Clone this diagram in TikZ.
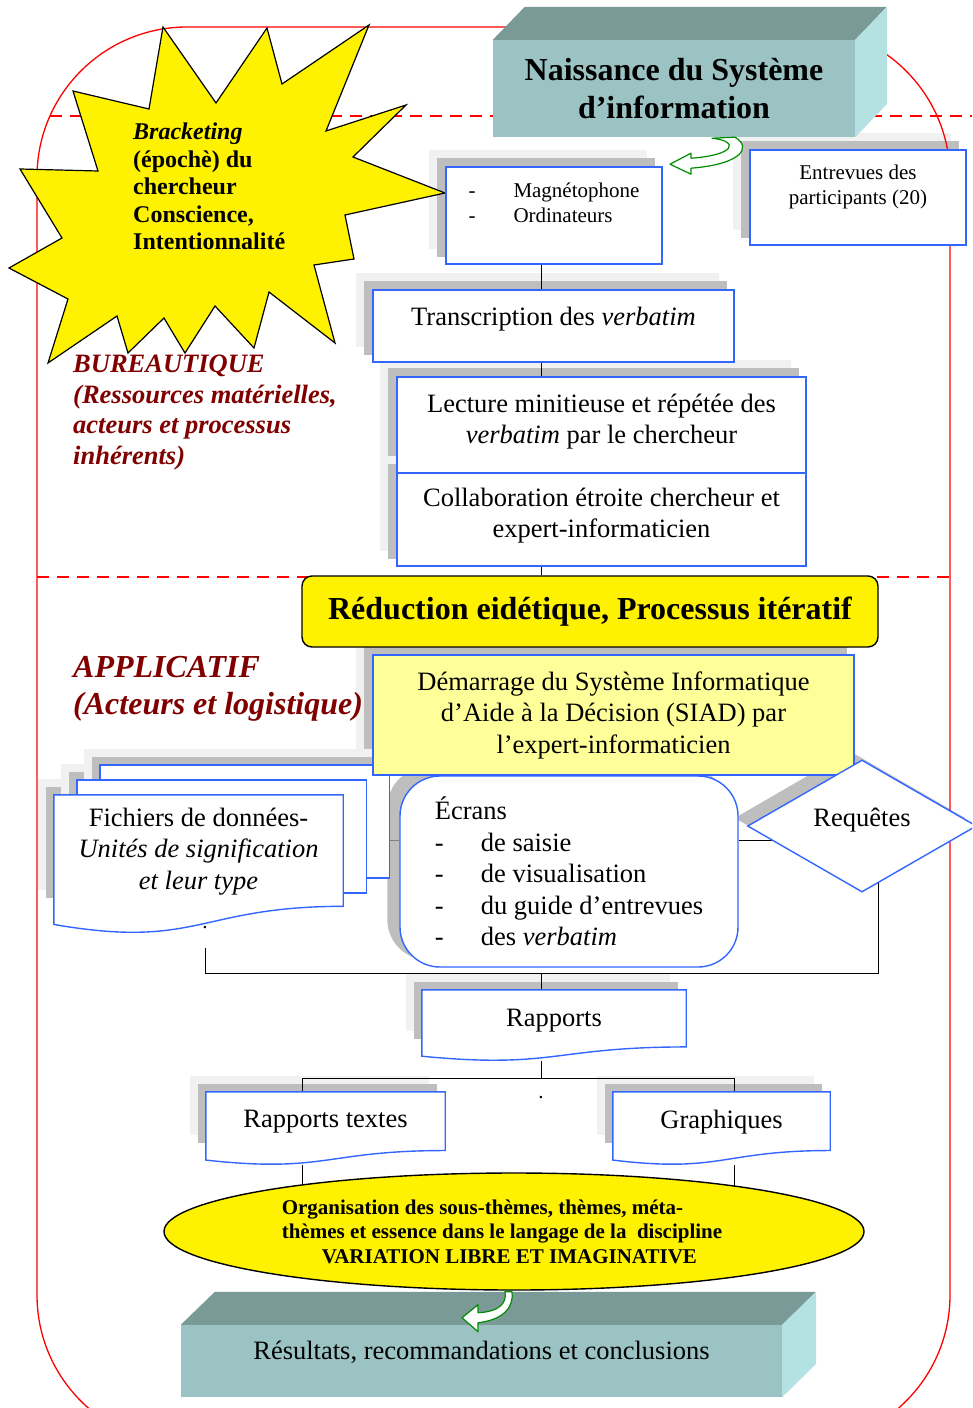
\documentclass[tikz,border=0pt]{standalone}
\usepackage{fontspec}
\setmainfont{Liberation Serif}
\usetikzlibrary{calc,shapes.geometric}

\definecolor{bleu}{RGB}{51,102,255}
\definecolor{rougefonce}{RGB}{128,0,0}
\definecolor{jaunepale}{RGB}{255,255,153}
\definecolor{face}{RGB}{156,195,195}
\definecolor{dessus}{RGB}{122,154,152}
\definecolor{cote}{RGB}{180,226,226}
\definecolor{gris1}{RGB}{241,241,241}
\definecolor{gris2}{RGB}{190,190,190}
\definecolor{vert}{RGB}{0,140,0}

\pgfdeclarelayer{ombre}
\pgfdeclarelayer{lignes}
\pgfdeclarelayer{fond}
\pgfsetlayers{ombre,lignes,fond,main}

\newcommand{\txt}{\fontsize{26.5}{31.5}\selectfont}
\newcommand{\petit}{\fontsize{21}{25}\selectfont}
\newcommand{\tiret}[1]{\makebox[#1][l]{-}}
\newcommand{\ombre}[2][1]{%
  \fill[gris1] ($(#2.north west)+(-16,-16)$) rectangle ($(#2.north east)!#1!(#2.south east)+(-16,-16)$);
  \fill[gris2] ($(#2.north west)+(-8,-8)$) rectangle ($(#2.north east)!#1!(#2.south east)+(-8,-8)$);}
\newcommand{\feuille}[1]{%
  \draw[draw=bleu,line width=1.4pt,fill=white] (#1.north west) -- (#1.north east)
    -- ($(#1.north east)!0.8!(#1.south east)$)
    .. controls ($(#1.north)!0.8!(#1.south)$) and ($(#1.north)!1.11!(#1.south)$)
    .. ($(#1.north west)!0.93!(#1.south west)$) -- cycle;}

\begin{document}
\begin{tikzpicture}[x=1pt,y=-1pt,
  boite/.style={draw=bleu,line width=1.4pt,fill=white,inner sep=0pt,align=center,font=\txt},
  feuillet/.style={inner sep=0pt,align=center,font=\txt},
  bloc/.style={fill=face,inner sep=0pt,align=center},
  titre/.style={anchor=north west,inner sep=0pt,align=left,text=rougefonce},
  lien/.style={line width=1pt},
  fleche/.style={draw=vert,fill=white,line width=1.2pt,line join=round},
  tirets/.style={red,line width=1.3pt,dash pattern=on 12pt off 8pt}]
   \useasboundingbox (0,0) rectangle (972,1408);
   \clip (0,0) rectangle (972,1408);

   \draw[red,line width=1.3pt,rounded corners=150pt] (37,27) rectangle (950,1445);%cadre
   \draw[tirets] (50,116) -- (972,116);%limite haute
   \draw[tirets] (37,577) -- (955,577);%limite bureautique/applicatif

   \draw[fill=yellow,line width=1.2pt] (163,27) -- (216,103) -- (267,28) -- (282,84)
      -- (369,25) -- (326,131) -- (406,105) -- (353,157) -- (445,193) -- (345,215)
      -- (354,259) -- (314,265) -- (335,343) -- (269,292) -- (254,348) -- (215,306)
      -- (185,353) -- (164,318) -- (128,353) -- (117,316) -- (48,363) -- (68,299)
      -- (9,268) -- (62,238) -- (20,169) -- (98,171) -- (73,91) -- (149,109) -- cycle;%etoile
   \node[anchor=north west,inner sep=0pt,align=left,font=\fontsize{24}{27.5}\selectfont\bfseries] (brk)
      at (133,123) {\textit{Bracketing}\\(épochè) du\\chercheur\\Conscience,\\Intentionnalité};

   \node[titre,font=\fontsize{26.5}{30.5}\selectfont\bfseries\itshape] (bur) at (73,355)
      {BUREAUTIQUE\\(Ressources matérielles,\\acteurs et processus\\inhérents)};
   \node[titre,font=\fontsize{32}{37}\selectfont\bfseries\itshape] (app) at (73,656)
      {APPLICATIF\\(Acteurs et logistique)};

   \node[bloc,minimum width=362pt,minimum height=97pt,font=\fontsize{32}{37.5}\selectfont\bfseries]
      (nais) at (674,88.5) {Naissance du Système\\d’information};
   \fill[dessus] (nais.north west) -- ++(32,-33) -- ++(362,0) -- (nais.north east) -- cycle;%dessus
   \fill[cote] (nais.north east) -- ++(32,-33) -- ++(0,97) -- (nais.south east) -- cycle;%cote

   \node[boite,minimum width=216pt,minimum height=95pt,font=\petit] (ent) at (858,197.5)
      {Entrevues des\\participants (20)\\ \mbox{}};
   \node[boite,minimum width=216pt,minimum height=97pt,font=\petit,align=left] (mag) at (554,215.5)
      {\tiret{45pt}Magnétophone\\\tiret{45pt}Ordinateurs\\ \mbox{}};
   \node[boite,minimum width=361pt,minimum height=72pt] (tra) at (553.5,326)
      {Transcription des \emph{verbatim}\\[-13pt]\mbox{}};
   \node[boite,minimum width=409pt,minimum height=96pt] (lec) at (601.5,425)
      {Lecture minitieuse et répétée des\\\emph{verbatim} par le chercheur\\[-19pt]\mbox{}};
   \node[boite,minimum width=409pt,minimum height=93pt] (col) at (601.5,519.5)
      {Collaboration étroite chercheur et\\expert-informaticien\\[-18pt]\mbox{}};
   \node[draw,fill=yellow,line width=1.4pt,rounded corners=10pt,minimum width=576pt,minimum height=71pt,
      font=\fontsize{32}{37}\selectfont\bfseries] (red) at (590,611.5) {Réduction eidétique, Processus itératif};
   \node[boite,fill=jaunepale,minimum width=481pt,minimum height=120pt] (dem) at (613.5,715)
      {Démarrage du Système Informatique\\d’Aide à la Décision (SIAD) par\\l’expert-informaticien};

   \node[feuillet,minimum width=289pt,minimum height=139pt] (fic) at (198.5,864.5)
      {Fichiers de données-\\\emph{Unités de signification}\\\emph{et leur type}\\ \mbox{}};
   \node[boite,rounded corners=40pt,minimum width=338pt,minimum height=191pt,align=left] (ecr) at (569,871.5)
      {Écrans\\\tiret{46pt}de saisie\\\tiret{46pt}de visualisation\\\tiret{46pt}du guide d’entrevues\\\tiret{46pt}des \emph{verbatim}};
   \node[boite,diamond,minimum width=229pt,minimum height=119pt] (req) at (862,826) {Requêtes\\[-15pt]\mbox{}};
   \node[font=\petit,inner sep=0pt] (p1) at (205,928) {.};

   \node[feuillet,minimum width=264pt,minimum height=71pt] (rap) at (554,1025.5) {Rapports\\[-16pt]\mbox{}};
   \node[font=\petit,inner sep=0pt] (p2) at (541,1098) {.};
   \node[feuillet,minimum width=239pt,minimum height=73pt] (rtx) at (325.5,1128.5) {Rapports textes\\[-13pt]\mbox{}};
   \node[feuillet,minimum width=217pt,minimum height=73pt] (gra) at (721.5,1128.5) {Graphiques\\[-13pt]\mbox{}};

   \node[ellipse,draw,fill=yellow,line width=1.4pt,minimum width=700pt,minimum height=117pt,inner sep=0pt,
      align=left,font=\fontsize{21}{24.5}\selectfont\bfseries] (org) at (514,1231.5)
      {Organisation des sous-thèmes, thèmes, méta-\\thèmes et essence dans le langage de la\ \ discipline\hspace*{24pt}\mbox{}\\\hspace*{40pt}VARIATION LIBRE ET IMAGINATIVE};

   \node[bloc,minimum width=601pt,minimum height=72pt,font=\txt] (res) at (481.5,1361)
      {Résultats, recommandations et conclusions\\[-11pt]\mbox{}};
   \fill[dessus] (res.north west) -- ++(34,-33) -- ++(601,0) -- (res.north east) -- cycle;%dessus
   \fill[cote] (res.north east) -- ++(34,-33) -- ++(0,72) -- (res.south east) -- cycle;%cote

   \coordinate (f1) at ($(nais.south)+(50,0)$);%fleche verte haut
   \begin{scope}[shift={(f1)}]
       \draw[fleche] (-12,1) .. controls (16,4) and (11,18) .. (-33,21) -- (-33,16) -- (-54,27)
          -- (-33,37) -- (-33,31) .. controls (18,27) and (28,10) .. (11,0) -- cycle;
   \end{scope}
   \coordinate (f2) at ($(org.south)+(-6,0)$);%fleche verte bas
   \begin{scope}[shift={(f2)}]
       \draw[fleche] (-3,1) .. controls (-1,12) and (-8,21) .. (-30,22) -- (-30,14) -- (-46,27)
          -- (-30,41) -- (-30,32) .. controls (-3,29) and (6,15) .. (4,1) -- cycle;
   \end{scope}

   \begin{pgfonlayer}{fond}
       \foreach \d in {2,1}
           \draw[draw=bleu,line width=1.4pt,fill=white] ($(fic.north west)+(23*\d,-15*\d)$)
              rectangle ($(fic.north east)+(23*\d,113-15*\d)$);%feuilles arriere
       \foreach \n in {fic,rap,rtx,gra}
           \feuille{\n};
   \end{pgfonlayer}

   \begin{pgfonlayer}{lignes}
       \coordinate (axe) at (541,0);
       \coordinate (fg) at (205,948);
       \coordinate (bas) at (541,973);
       \coordinate (rq) at (878,840);
       \coordinate (fourche) at (541,1078);
       \coordinate (fgauche) at (302,1078);
       \coordinate (fdroite) at (734,1078);
       \draw[lien] (axe |- mag.south) -- (axe |- tra.north);
       \draw[lien] (axe |- tra.south) -- (axe |- lec.north);
       \draw[lien] (axe |- col.south) -- (axe |- red.north);
       \draw[lien] (fg) |- (bas) -| (rq) -- (ecr.east |- rq);
       \draw[lien,gray] (ecr.west |- rq) -- +(-10,0);
       \draw[lien] (bas) -- (axe |- rap.north);
       \draw[lien] (axe |- rap.south) -- (fourche);
       \draw[lien] (fgauche |- rtx.north) -- (fgauche) -- (fdroite) -- (fdroite |- gra.north);
       \draw[lien] (fgauche |- rtx.south) -- (fgauche |- org.center);
       \draw[lien] (fdroite |- gra.south) -- (fdroite |- org.center);
   \end{pgfonlayer}

   \begin{pgfonlayer}{ombre}
       \foreach \n in {ent,mag,tra,lec,col,dem}
           \ombre{\n};
       \foreach \n in {rap,rtx,gra}
           \ombre[0.8]{\n};
       \foreach \d in {0,1,2}{
           \fill[gris1] ($(fic.north west)+(23*\d-16,-15*\d-16)$) rectangle ($(fic.north east)+(23*\d-16,111-15*\d-16)$);
           \fill[gris2] ($(fic.north west)+(23*\d-8,-15*\d-8)$) rectangle ($(fic.north east)+(23*\d-8,111-15*\d-8)$);}
       \fill[gris2,rounded corners=40pt] ($(ecr.north west)+(-12,-8)$) rectangle ($(ecr.south east)+(-12,-8)$);
       \fill[gris2] ($(req.west)+(-12,-8)$) -- ($(req.north)+(-12,-8)$) -- ($(req.east)+(-12,-8)$)
          -- ($(req.south)+(-12,-8)$) -- cycle;
   \end{pgfonlayer}
\end{tikzpicture}
\end{document}
